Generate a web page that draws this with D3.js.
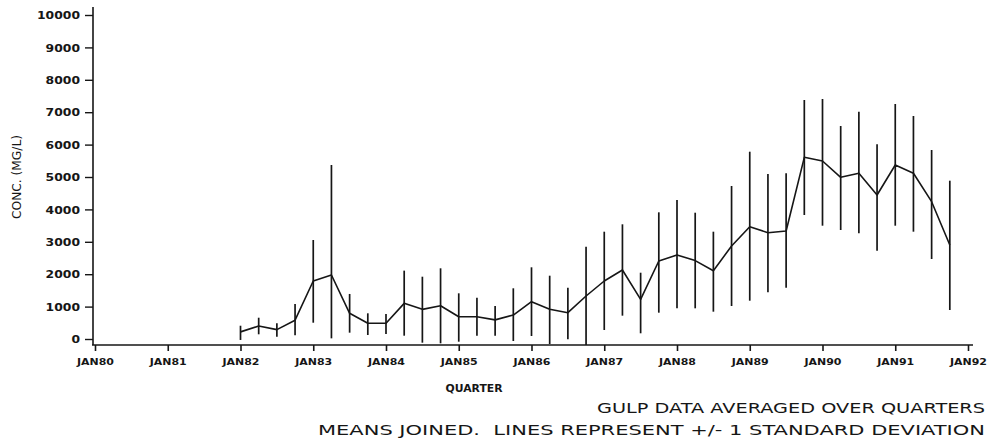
<!DOCTYPE html>
<html>
<head>
<meta charset="utf-8">
<script src="https://cdn.jsdelivr.net/npm/d3@7/dist/d3.min.js"></script>
<style>
  html, body { margin: 0; padding: 0; background: #ffffff; }
  svg { display: block; }
</style>
</head>
<body>
<svg id="chart" width="992" height="441"></svg>
<script>
// ---- DATA ----
const yearTicks = [1980, 1981, 1982, 1983, 1984, 1985, 1986, 1987, 1988, 1989, 1990, 1991, 1992];
const yearLabels = ["JAN80","JAN81","JAN82","JAN83","JAN84","JAN85","JAN86","JAN87","JAN88","JAN89","JAN90","JAN91","JAN92"];
const concTicks = [0, 1000, 2000, 3000, 4000, 5000, 6000, 7000, 8000, 9000, 10000];

const quarters = [
  1982.00, 1982.25, 1982.50, 1982.75,
  1983.00, 1983.25, 1983.50, 1983.75,
  1984.00, 1984.25, 1984.50, 1984.75,
  1985.00, 1985.25, 1985.50, 1985.75,
  1986.00, 1986.25, 1986.50, 1986.75,
  1987.00, 1987.25, 1987.50, 1987.75,
  1988.00, 1988.25, 1988.50, 1988.75,
  1989.00, 1989.25, 1989.50, 1989.75,
  1990.00, 1990.25, 1990.50, 1990.75,
  1991.00, 1991.25, 1991.50, 1991.75
];
const means = [
  220, 400, 290, 580,
  1790, 1975, 793, 485,
  485, 1100, 915, 1028,
  688, 688, 590, 740,
  1152, 916, 812, 1327,
  1790, 2130, 1225, 2407,
  2593, 2420, 2108, 2870,
  3466, 3281, 3333, 5607,
  5494, 4990, 5114, 4444,
  5370, 5114, 4238, 2901
];
const lowers = [
  -30, 145, 71, 114,
  503, 20, 195, 123,
  154, 102, -114, -133,
  -83, 102, 102, -62,
  93, -154, -9, -250,
  278, 720, 176, 812,
  947, 947, 843, 1018,
  1182, 1441, 1583, 3827,
  3497, 3364, 3261, 2725,
  3497, 3312, 2469, 895
];
const uppers = [
  410, 657, 485, 1080,
  3055, 5370, 1390, 793,
  772, 2110, 1923, 2182,
  1410, 1275, 1018, 1565,
  2213, 1954, 1583, 2849,
  3312, 3540, 2046, 3910,
  4290, 3898, 3312, 4722,
  5781, 5093, 5114, 7377,
  7407, 6574, 7015, 6009,
  7253, 6883, 5833, 4886
];

const titleY = "CONC. (MG/L)";
const titleX = "QUARTER";
const footer1 = "GULP DATA AVERAGED OVER QUARTERS";
const footer2 = "MEANS JOINED.  LINES REPRESENT +/- 1 STANDARD DEVIATION";

// ---- LAYOUT ----
const ink = "#161616";
const svg = d3.select("#chart");

const x = d3.scaleLinear().domain([1980, 1992]).range([95, 968]);
const y = d3.scaleLinear().domain([0, 10000]).range([339, 15]);
const xAxisY = 345;
const yAxisX = 93;

// y axis
const gy = svg.append("g").attr("transform", `translate(${yAxisX},0)`)
  .call(d3.axisLeft(y).tickValues(concTicks).tickSize(8).tickPadding(5).tickFormat(d3.format("d")));
gy.select(".domain").remove();
gy.selectAll(".tick line").attr("stroke", ink).attr("stroke-width", 1.4);
gy.selectAll(".tick text")
  .attr("fill", ink)
  .style("font-family", "DejaVu Sans, sans-serif")
  .style("font-weight", "bold")
  .style("font-size", "10.5px")
  .attr("dy", "0.36em")
  .attr("textLength", d => String(d).length * 8.6)
  .attr("lengthAdjust", "spacingAndGlyphs");

svg.append("line")
  .attr("x1", yAxisX).attr("x2", yAxisX)
  .attr("y1", 7).attr("y2", xAxisY)
  .attr("stroke", ink).attr("stroke-width", 1.6);

// x axis
const gx = svg.append("g").attr("transform", `translate(0,${xAxisY})`)
  .call(d3.axisBottom(x).tickValues(yearTicks).tickSize(6).tickPadding(8)
    .tickFormat((d, i) => yearLabels[i]));
gx.select(".domain").remove();
gx.selectAll(".tick line").attr("stroke", ink).attr("stroke-width", 1.6);
gx.selectAll(".tick text")
  .attr("fill", ink)
  .style("font-family", "DejaVu Sans, sans-serif")
  .style("font-weight", "bold")
  .style("font-size", "8.5px")
  .attr("textLength", 37)
  .attr("lengthAdjust", "spacingAndGlyphs");

svg.append("line")
  .attr("x1", yAxisX - 1).attr("x2", 973)
  .attr("y1", xAxisY).attr("y2", xAxisY)
  .attr("stroke", ink).attr("stroke-width", 1.6);

// error bars
const yMaxPix = xAxisY;
svg.append("g").selectAll("line")
  .data(quarters)
  .join("line")
  .attr("x1", d => x(d)).attr("x2", d => x(d))
  .attr("y1", (d, i) => y(uppers[i]))
  .attr("y2", (d, i) => Math.min(y(lowers[i]), yMaxPix))
  .attr("stroke", ink).attr("stroke-width", 1.7);

// means joined
const line = d3.line().x(d => x(d[0])).y(d => y(d[1]));
svg.append("path")
  .datum(quarters.map((q, i) => [q, means[i]]))
  .attr("d", line)
  .attr("fill", "none")
  .attr("stroke", ink)
  .attr("stroke-width", 1.6)
  .attr("stroke-linejoin", "round");

// axis titles
svg.append("text")
  .attr("transform", "translate(21,177) rotate(-90)")
  .attr("text-anchor", "middle")
  .attr("fill", ink)
  .style("font-family", "DejaVu Sans, sans-serif")
  .style("font-size", "11.5px")
  .attr("textLength", 84)
  .attr("lengthAdjust", "spacingAndGlyphs")
  .text(titleY);

svg.append("text")
  .attr("x", 474).attr("y", 392)
  .attr("text-anchor", "middle")
  .attr("fill", ink)
  .style("font-family", "DejaVu Sans, sans-serif")
  .style("font-weight", "bold")
  .style("font-size", "10px")
  .attr("textLength", 57)
  .attr("lengthAdjust", "spacingAndGlyphs")
  .text(titleX);

// footers
svg.append("text")
  .attr("x", 985).attr("y", 413)
  .attr("text-anchor", "end")
  .attr("fill", ink)
  .style("font-family", "DejaVu Sans, sans-serif")
  .style("font-size", "13.5px")
  .style("white-space", "pre")
  .attr("textLength", 388)
  .attr("lengthAdjust", "spacingAndGlyphs")
  .text(footer1);

svg.append("text")
  .attr("x", 985).attr("y", 435)
  .attr("text-anchor", "end")
  .attr("fill", ink)
  .style("font-family", "DejaVu Sans, sans-serif")
  .style("font-size", "13.5px")
  .style("white-space", "pre")
  .attr("textLength", 667)
  .attr("lengthAdjust", "spacingAndGlyphs")
  .text(footer2);
</script>
</body>
</html>
